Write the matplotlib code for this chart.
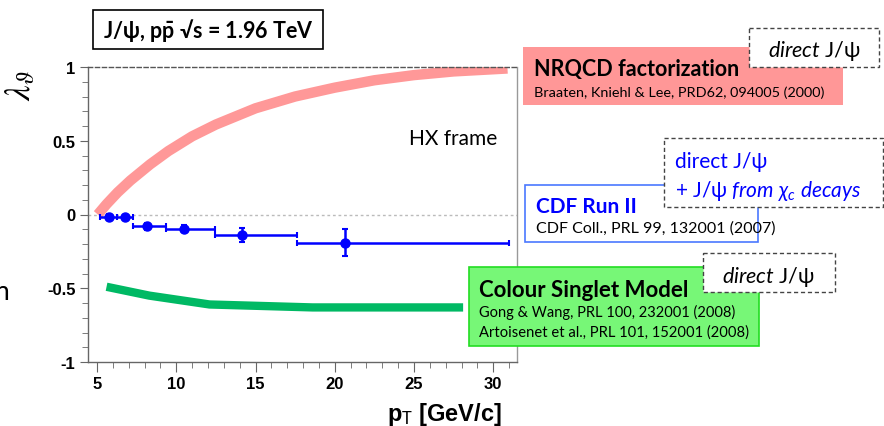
import matplotlib
matplotlib.use("Agg")
import matplotlib.pyplot as plt
from matplotlib.patches import Rectangle
from matplotlib.ticker import MultipleLocator, FixedLocator

plt.rcParams['mathtext.fontset'] = 'custom'
plt.rcParams['mathtext.rm'] = 'Lato'
plt.rcParams['mathtext.it'] = 'Lato:italic'
plt.rcParams['mathtext.bf'] = 'Lato:bold'
plt.rcParams['mathtext.fallback'] = 'stixsans'

SANS = ['Lato', 'DejaVu Sans']
AXFONT = 'Liberation Sans'

# NRQCD factorization, direct J/psi, HX frame
nrqcd_pt = [5.05, 5.6, 6.3, 7.1, 8.35, 9.5, 11, 12.5, 15, 17.5, 20, 22.5, 25, 27.5, 30.9]
nrqcd_lam = [0.0, 0.07, 0.15, 0.23, 0.34, 0.43, 0.53, 0.61, 0.72, 0.8, 0.86, 0.91,
             0.945, 0.97, 0.99]

# colour singlet model
csm_pt = [5.6, 8.3, 12.1, 18.6, 28.1]
csm_lam = [-0.49, -0.55, -0.61, -0.63, -0.63]

# CDF Run II measurement (bin edges, bin centre, lambda_theta, stat error)
cdf_lo = [5.2, 6.25, 7.25, 9.35, 12.45, 17.6]
cdf_hi = [6.25, 7.25, 9.35, 12.45, 17.6, 31.0]
cdf_pt = [5.78, 6.77, 8.14, 10.5, 14.17, 20.66]
cdf_lam = [-0.015, -0.02, -0.08, -0.097, -0.14, -0.19]
cdf_err = [0.02, 0.02, 0.025, 0.025, 0.047, 0.093]

xticks = [5, 10, 15, 20, 25, 30]
yticks = [-1, -0.5, 0, 0.5, 1]
ytick_labels = ['-1', '-0.5', '0', '0.5', '1']

W, H = 884, 427
fig = plt.figure(figsize=(W / 100, H / 100), dpi=100)
ax = fig.add_axes([88 / W, 1 - 363 / H, (517 - 88) / W, (363 - 68) / H])
ax.set_xlim(4.43, 31.5)
ax.set_ylim(-1, 1)

ax.axhline(0, color='#bbbbbb', lw=1, ls=(0, (2, 2)), zorder=1)
ax.plot(nrqcd_pt, nrqcd_lam, color='#ff9898', lw=7.5, solid_capstyle='butt',
        solid_joinstyle='round', zorder=2)
ax.plot(csm_pt, csm_lam, color='#00b964', lw=6, solid_capstyle='butt',
        solid_joinstyle='round', zorder=2)

xerr = [[p - lo for p, lo in zip(cdf_pt, cdf_lo)],
        [hi - p for p, hi in zip(cdf_pt, cdf_hi)]]
ax.errorbar(cdf_pt, cdf_lam, xerr=xerr, yerr=cdf_err, fmt='o', color='#0000ff',
            ms=6.5, elinewidth=1.8, capsize=2.5, capthick=1.5, zorder=3)

for s in ['left', 'bottom']:
    ax.spines[s].set_color('#666666')
ax.spines['right'].set_color('#999999')
ax.spines['top'].set_color('#555555')
ax.spines['top'].set_linestyle((0, (3, 2)))
for s in ax.spines.values():
    s.set_linewidth(1.0)

ax.xaxis.set_major_locator(FixedLocator(xticks))
ax.xaxis.set_minor_locator(MultipleLocator(1))
ax.yaxis.set_major_locator(FixedLocator(yticks))
ax.yaxis.set_minor_locator(MultipleLocator(0.1))
ax.set_xticklabels([str(t) for t in xticks])
ax.set_yticklabels(ytick_labels)
ax.tick_params(which='both', direction='out', color='#666666', top=False, right=False)
ax.tick_params(axis='x', which='major', length=7, pad=3)
ax.tick_params(axis='x', which='minor', length=4)
ax.tick_params(axis='y', which='major', length=6, pad=3)
ax.tick_params(axis='y', which='minor', length=4)
for lab in ax.get_xticklabels() + ax.get_yticklabels():
    lab.set_fontfamily(AXFONT)
    lab.set_fontweight('bold')
    lab.set_fontsize(12)

# overlay in pixel coordinates for the annotation boxes
ov = fig.add_axes([0, 0, 1, 1], zorder=5)
ov.set_xlim(0, W)
ov.set_ylim(H, 0)
ov.axis('off')
ov.patch.set_alpha(0)


def box(x0, x1, y0, y1, fc, ec, ls='-', lw=1.2, z=1):
    ov.add_patch(Rectangle((x0, y0), x1 - x0, y1 - y0, facecolor=fc,
                           edgecolor=ec, linestyle=ls, linewidth=lw, zorder=z))


def txt(x, y, s, size, **kw):
    kw.setdefault('family', SANS)
    kw.setdefault('zorder', 5)
    ov.text(x, y, s, fontsize=size, va='baseline', **kw)


DASH = (0, (3, 2))

# axis titles
ov.text(502, 421, r'p$_{\mathrm{T}}$ [GeV/c]', family=AXFONT, fontweight='bold',
        fontsize=17, ha='right', va='baseline')
ov.text(20, 70, r'$\lambda_{\vartheta}$', fontsize=25, rotation=90,
        ha='center', va='top', math_fontfamily='stix')

# header box
box(93, 323, 11, 50, 'white', 'black', lw=1.2)
txt(209, 38, r'J/ψ, p$\mathbf{\bar{p}}$ √s = 1.96 TeV', 15.5, ha='center',
    fontweight='bold')

txt(409, 145, 'HX frame', 15)

# NRQCD label
box(523, 843, 48, 106, '#ff9797', 'none', z=1)
txt(534, 76, 'NRQCD factorization', 15.5, fontweight='bold')
txt(534, 97, 'Braaten, Kniehl & Lee, PRD62, 094005 (2000)', 10.4)
box(749, 879, 29, 68, 'white', '#444444', ls=DASH, lw=1.0, z=2)
txt(814, 57, r'$\mathit{direct}$ J/ψ', 15.5, ha='center')

# CDF label
box(525, 758, 186, 243, 'white', '#4a78ff', lw=1.2, z=1)
txt(536, 213, 'CDF Run II', 15, fontweight='bold', color='#0000ff')
txt(536, 233, 'CDF Coll., PRL 99, 132001 (2007)', 11.5)
box(664, 883, 139, 208, 'white', '#444444', ls=DASH, lw=1.0, z=2)
txt(675, 168, 'direct J/ψ', 15, color='#0000ff')
txt(675, 197, r'+ J/ψ $\mathit{from}\ \chi_c\ \mathit{decays}$', 15, color='#0000ff')

# colour singlet label
box(469, 759, 268, 347, '#77f777', '#22dd22', lw=1.2, z=1)
txt(479, 297, 'Colour Singlet Model', 16, fontweight='bold')
txt(479, 317, 'Gong & Wang, PRL 100, 232001 (2008)', 10.5)
txt(479, 337, 'Artoisenet et al., PRL 101, 152001 (2008)', 10.6)
box(703, 835, 254, 293, 'white', '#444444', ls=DASH, lw=1.0, z=2)
txt(768, 283, r'$\mathit{direct}$ J/ψ', 15.5, ha='center')

txt(-6, 300, 'n', 19)

fig.savefig('out.png', dpi=100)
